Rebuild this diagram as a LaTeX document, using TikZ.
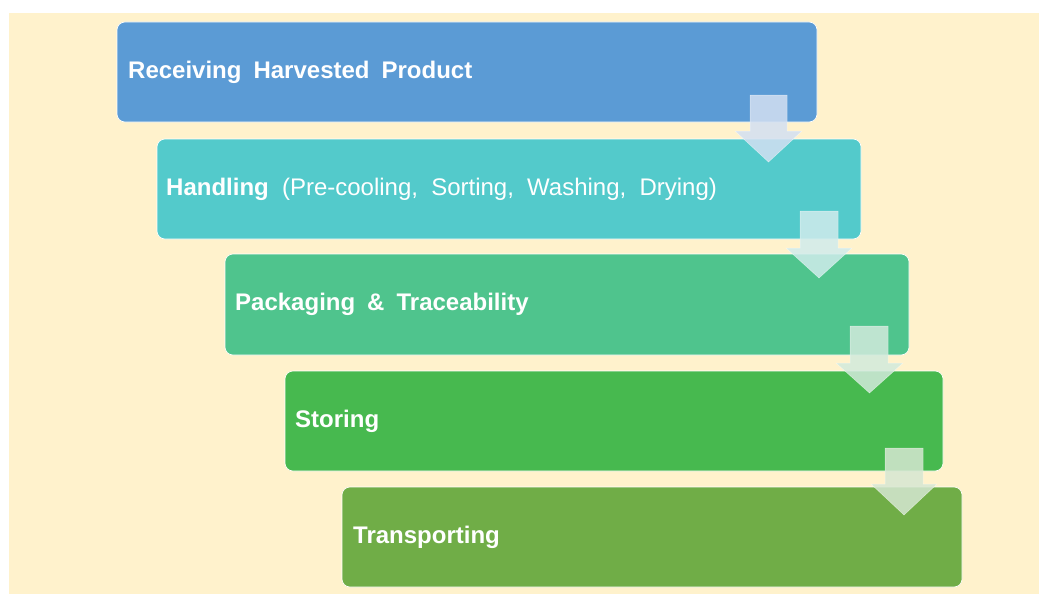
\documentclass[tikz,border=0pt]{standalone}
\usepackage{fontspec}
\setmainfont{Liberation Sans}
\begin{document}
\begin{tikzpicture}[x=1pt,y=-1pt,
  stepbox/.style={rounded corners=8pt, draw=white, line width=0.6pt},
  steplabel/.style={anchor=west, text=white, inner sep=0pt, font=\fontsize{24}{28}\selectfont},
  flowarrow/.style={fill opacity=0.85, draw=white, draw opacity=0.5, line width=0.5pt}]
\definecolor{bgcream}{HTML}{FFF2CC}
\definecolor{cA}{HTML}{5B9BD5}
\definecolor{cB}{HTML}{53CACB}
\definecolor{cC}{HTML}{4FC48D}
\definecolor{cD}{HTML}{47B94F}
\definecolor{cE}{HTML}{70AD47}
\definecolor{aA}{HTML}{D3E0F2}
\definecolor{aB}{HTML}{D0ECEC}
\definecolor{aC}{HTML}{D2EADC}
\definecolor{aD}{HTML}{D6E7D2}
\useasboundingbox (0,0) rectangle (1039,594);
\fill[white] (0,0) rectangle (1039,594);
\fill[bgcream] (9,13) rectangle (1039,594);
% boxes
\fill[stepbox, fill=cA] (117,22) rectangle (817,122);
\fill[stepbox, fill=cB] (157,139) rectangle (861,239);
\fill[stepbox, fill=cC] (225,254) rectangle (909,355);
\fill[stepbox, fill=cD] (285,371) rectangle (943,471);
\fill[stepbox, fill=cE] (342,487) rectangle (962,587);
\node[steplabel] (t1) at (128,72) {\textbf{Receiving\hspace{0.5em}Harvested\hspace{0.5em}Product}};
\node[steplabel] (t2) at (166,189) {\textbf{Handling}\hspace{0.55em}(Pre-cooling,\hspace{0.55em}Sorting,\hspace{0.55em}Washing,\hspace{0.55em}Drying)};
\node[steplabel] (t3) at (235,304) {\textbf{Packaging\hspace{0.5em}\&\hspace{0.5em}Traceability}};
\node[steplabel] (t4) at (295,421) {\textbf{Storing}};
\node[steplabel] (t5) at (353,537) {\textbf{Transporting}};
% arrows
\filldraw[flowarrow, fill=aA] (750,95) -- (787,95) -- (787,131) -- (802,131) -- (768.5,162) -- (735,131) -- (750,131) -- cycle;
\filldraw[flowarrow, fill=aB] (800,211) -- (838,211) -- (838,248) -- (852,248) -- (819,278) -- (786,248) -- (800,248) -- cycle;
\filldraw[flowarrow, fill=aC] (850,326) -- (888,326) -- (888,363) -- (903,363) -- (869.5,393) -- (836,363) -- (850,363) -- cycle;
\filldraw[flowarrow, fill=aD] (885,448) -- (923,448) -- (923,484) -- (937,484) -- (904,515) -- (871,484) -- (885,484) -- cycle;
\end{tikzpicture}
\end{document}
